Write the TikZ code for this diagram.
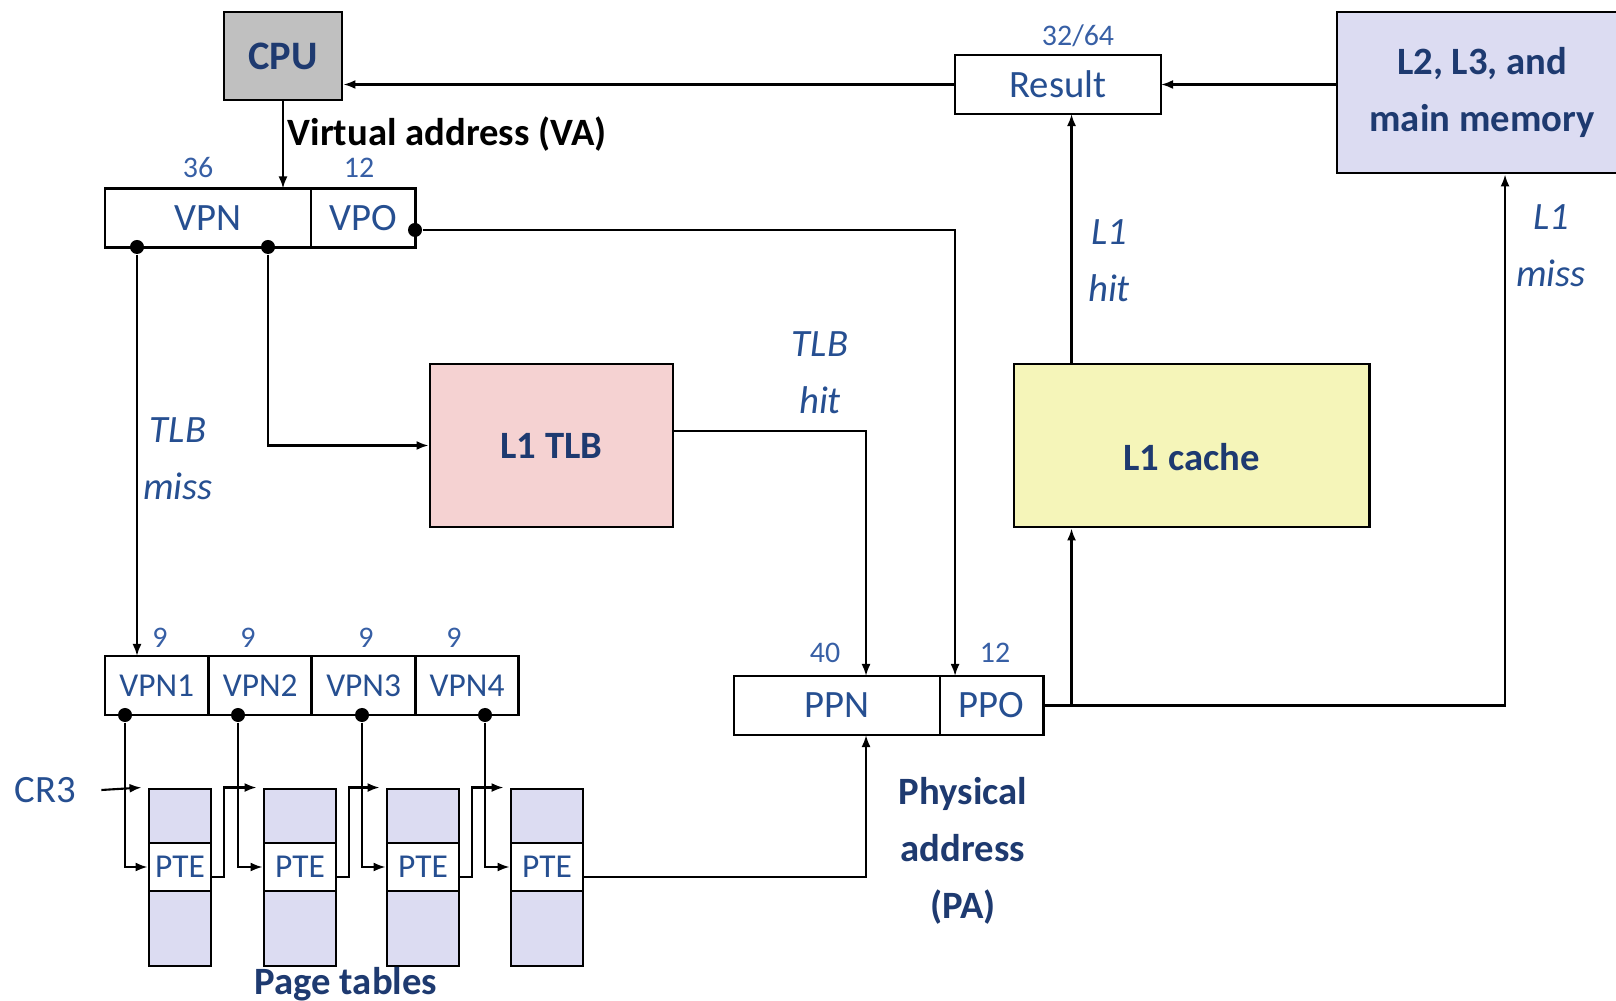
\documentclass[tikz,border=0pt]{standalone}
\usepackage{fontspec}
\setmainfont{Carlito}
\usetikzlibrary{arrows.meta,positioning}
\usepackage{xcolor}
\definecolor{txtblue}{RGB}{38,79,145}
\definecolor{darkblue}{RGB}{30,58,112}
\definecolor{numblue}{RGB}{55,95,165}
\definecolor{cpugray}{RGB}{192,192,192}
\definecolor{memfill}{RGB}{220,220,242}
\definecolor{tlbfill}{RGB}{245,210,210}
\definecolor{cachefill}{RGB}{245,245,185}
\definecolor{tabfill}{RGB}{220,220,242}

\tikzset{
  field/.style={draw, line width=0.8pt, fill=white, inner sep=0pt, outer sep=0pt, minimum height=0.59cm, text=txtblue, font=\fontsize{11}{13}\selectfont},
  unit/.style={draw, line width=0.8pt, inner sep=0pt, align=center, text=darkblue, font=\bfseries\fontsize{11}{16.2}\selectfont},
  bits/.style={inner sep=0pt, text=numblue, font=\fontsize{8.5}{10}\selectfont},
  note/.style={inner sep=0pt, align=center, text=txtblue, font=\itshape\fontsize{11}{16.2}\selectfont},
  heading/.style={inner sep=0pt, align=center, text=darkblue, font=\bfseries\fontsize{11}{16.2}\selectfont},
  ptab/.style={draw, line width=0.8pt, fill=tabfill, inner sep=0pt, minimum height=1.77cm},
  pte/.style={draw, line width=0.8pt, fill=white, inner sep=0pt, minimum height=0.48cm, text=txtblue, font=\fontsize{9.5}{11}\selectfont},
  dot/.style={circle, fill=black, inner sep=0pt, minimum size=0.14cm},
  wire/.style={line width=0.6pt},
}

\begin{document}
\begin{tikzpicture}[x=0.01cm, y=-0.01cm, >={Latex[length=0.12cm,width=0.09cm]}]
  \useasboundingbox (0,0) rectangle (1616,1001);

  % CPU, result and the memory side
  \node (cpu) [unit, fill=cpugray, minimum width=1.18cm, minimum height=0.88cm, font=\bfseries\fontsize{11.5}{14}\selectfont] at (283,56) {CPU};
  \node (result) [field, minimum width=2.06cm] at (1058,84.5) {Result};
  \node (resbits) [bits] at (1078,36) {32/64};
  \node (mem) [unit, fill=memfill, minimum width=2.90cm, minimum height=1.61cm] at (1482,92.5) {L2, L3, and\\main memory};
  \node (tlb) [unit, fill=tlbfill, minimum width=2.43cm, minimum height=1.63cm] at (551.5,445.5) {L1 TLB};
  \node (cache) [unit, fill=cachefill, minimum width=3.55cm, minimum height=1.63cm, text height=0.5cm, text depth=0cm] at (1191.5,445.5) {L1 cache};

  % virtual address
  \node (vpn) [field, minimum width=2.06cm] at (208,218) {VPN};
  \node (vpo) [field, minimum width=1.04cm, right=0pt of vpn] {VPO};
  \node (vpnbits) [bits] at (198,168) {36};
  \node (vpobits) [bits] at (359,168) {12};
  \node (vatext) [heading, text=black, anchor=west] at (287,134) {Virtual address (VA)};

  % split VPN for the page walk
  \node (vpn1) [field, minimum width=1.034cm, font=\fontsize{9.5}{11}\selectfont] at (156.7,685.5) {VPN1};
  \node (vpn2) [field, minimum width=1.034cm, font=\fontsize{9.5}{11}\selectfont, right=0pt of vpn1] {VPN2};
  \node (vpn3) [field, minimum width=1.034cm, font=\fontsize{9.5}{11}\selectfont, right=0pt of vpn2] {VPN3};
  \node (vpn4) [field, minimum width=1.034cm, font=\fontsize{9.5}{11}\selectfont, right=0pt of vpn3] {VPN4};
  \foreach \i/\x in {1/160,2/248,3/366,4/454}
    \node (bits\i) [bits] at (\x,638) {9};

  % physical address
  \node (ppn) [field, minimum width=2.06cm] at (837,705.5) {PPN};
  \node (ppo) [field, minimum width=1.03cm, right=0pt of ppn] {PPO};
  \node (ppnbits) [bits] at (825,653) {40};
  \node (ppobits) [bits] at (995,653) {12};

  % page tables
  \foreach \i/\x/\w in {1/180/0.62cm, 2/300/0.72cm, 3/423/0.72cm, 4/547/0.72cm} {
    \node (tab\i) [ptab, minimum width=\w] at (\x,877.5) {};
    \node (pte\i) [pte, minimum width=\w] at (\x,867) {PTE};
  }
  \node (cr3) [inner sep=0pt, text=txtblue, font=\fontsize{11}{13}\selectfont] at (45,790) {CR3};

  % labels
  \node (tlbhit) [note] at (820,373) {TLB\\hit};
  \node (tlbmiss) [note] at (178,459) {TLB\\miss};
  \node (l1hit) [note] at (1109,261) {L1\\hit};
  \node (l1miss) [note] at (1551,246) {L1\\miss};
  \node (patext) [heading] at (963,851) {Physical\\address\\(PA)};
  \node (pttext) [heading] at (346,984) {Page tables};

  % taps
  \node (vpodot) [dot] at (415,230) {};
  \node (missdot) [dot] at (137,247) {};
  \node (tlbdot) [dot] at (268,247) {};
  \foreach \i/\x in {1/125,2/238,3/362,4/485}
    \node (vdot\i) [dot] at (\x,715) {};

  % connections
  \draw[wire,->] (result.west) -- (result.west -| cpu.east);
  \draw[wire,->] (result.east -| mem.west) -- (result.east);
  \draw[wire,->] (cpu.south) -- (cpu.south |- vpn.north);
  \draw[wire,->] (vpodot) -| ([xshift=0.15cm]ppo.north west);
  \draw[wire,->] (missdot) -- (missdot |- vpn1.north);
  \draw[wire,->] (tlbdot) |- (tlb.west);
  \draw[wire,->] ([yshift=0.145cm]tlb.east) -| ([xshift=0.29cm]ppn.north);
  \draw[wire,->] (ppo.east) -| ([xshift=0.23cm]mem.south);
  \coordinate (cachein) at ([xshift=0.59cm]cache.south west);
  \coordinate (cacheout) at ([xshift=0.59cm]cache.north west);
  \draw[wire,->] (ppo.east -| cachein) -- (cachein);
  \draw[wire,->] (cacheout) -- (cacheout |- result.south);
  \draw[wire,->] ([yshift=-0.1cm]pte4.east) -| ([xshift=0.29cm]ppn.south);
  \draw[wire,->] ([xshift=0.25cm]cr3.east) -- ([xshift=-0.06cm]tab1.north west);
  \foreach \i in {1,...,4}
    \draw[wire,->] (vdot\i) |- (pte\i.west);
  \foreach \i/\j in {1/2,2/3,3/4}
    \draw[wire,->] ([yshift=-0.1cm]pte\i.east) -- ++(0.12cm,0) |- ([xshift=-0.06cm]tab\j.north west);
\end{tikzpicture}
\end{document}
